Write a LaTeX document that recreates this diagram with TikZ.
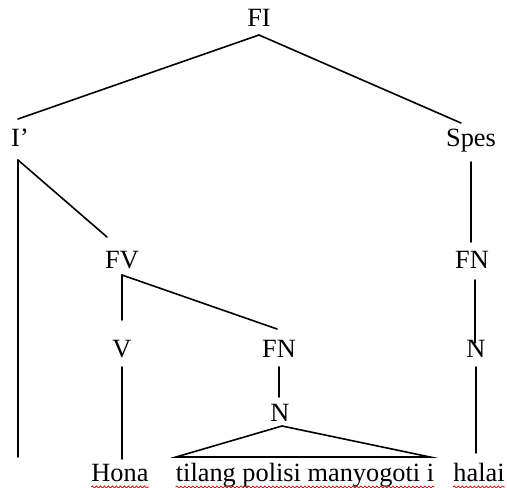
\documentclass[tikz,border=0pt]{standalone}
\usepackage{fontspec}
\setmainfont{Liberation Serif}
\usetikzlibrary{calc,decorations.pathmorphing}
\begin{document}
\begin{tikzpicture}[x=0.75pt,y=-0.75pt,
  lbl/.style={anchor=base,inner sep=0pt,font=\fontsize{19.75}{23}\selectfont},
  branch/.style={line width=1.2pt,line cap=round},
  squig/.style={red!85!black,line width=0.55pt,decorate,
    decoration={snake,amplitude=0.8pt,segment length=3pt}}]
\useasboundingbox (0,0) rectangle (507,488);

% category labels
\node[lbl] (FI)   at (259,27)  {FI};
\node[lbl] (Ip)   at (20,147)  {I’};
\node[lbl] (Spes) at (471,147) {Spes};
\node[lbl] (FV)   at (122,269) {FV};
\node[lbl] (FNr)  at (472,269) {FN};
\node[lbl] (V)    at (122,358) {V};
\node[lbl] (FNm)  at (279,358) {FN};
\node[lbl] (Nr)   at (476,358) {N};
\node[lbl] (Nm)   at (280,421) {N};

% words
\node[lbl] (Hona)   at (120,481) {Hona};
\node[lbl] (phrase) at (305,481) {tilang polisi manyogoti i};
\node[lbl] (halai)  at (479,481) {halai};

\coordinate (Iend) at ($(Ip.base)+(-2,310)$);

% branches
\draw[branch] ($(FI.base)+(0,8)$) -- ($(Ip.base)+(-2,-28)$);
\draw[branch] ($(FI.base)+(0,8)$) -- ($(Spes.base)+(-10,-24)$);
\draw[branch] ($(Ip.base)+(-2,13)$) -- (Iend);
\draw[branch] ($(Ip.base)+(-2,13)$) -- ($(FV.base)+(-15,-32)$);
\draw[branch] ($(Spes.base)+(0,15)$) -- ($(FNr.base)+(-1,-27)$);
\draw[branch] ($(FV.base)+(0,6)$) -- ($(V.base)+(0,-38)$);
\draw[branch] ($(FV.base)+(0,6)$) -- ($(FNm.base)+(-2,-29)$);
\draw[branch] ($(FNr.base)+(3,11)$) -- ($(Nr.base)+(-1,-15)$);
\draw[branch] ($(V.base)+(0,9)$) -- ($(Hona.base)+(2,-22)$);
\draw[branch] ($(FNm.base)+(0,9)$) -- ($(Nm.base)+(-1,-24)$);
\draw[branch] ($(Nr.base)+(0,9)$) -- ($(halai.base)+(-3,-28)$);
% triangle over the unanalysed phrase
\draw[branch,line join=miter] ($(phrase.base)+(-129,-24)$) -- ($(Nm.base)+(2,5)$)
  -- ($(phrase.base)+(125,-24)$) -- cycle;

% spell-check underlines
\draw[squig] ($(Hona.base west)+(0,6)$) -- ($(Hona.base east)+(0,6)$);
\draw[squig] ($(phrase.base west)+(0,6)$) -- ($(phrase.base east)+(0,6)$);
\draw[squig] ($(halai.base west)+(0,6)$) -- ($(halai.base east)+(0,6)$);
\end{tikzpicture}
\end{document}
